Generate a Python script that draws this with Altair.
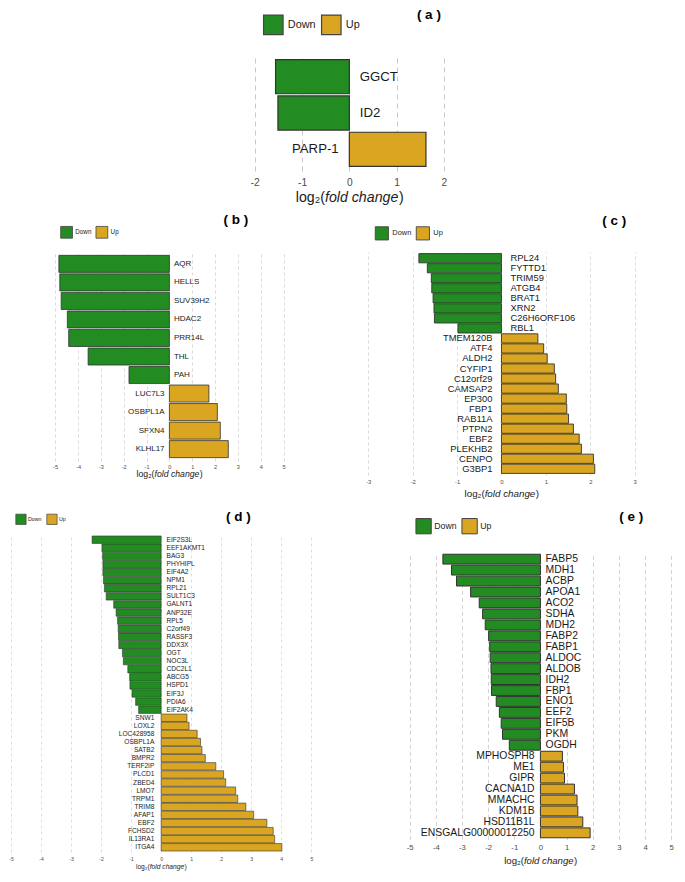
import altair as alt
import pandas as pd

FONT = "Liberation Sans"
GREEN = "#228B22"
GOLD = "#DAA520"
DIRS = ["Down", "Up"]

# ---------------- data ----------------
a_genes = ["GGCT", "ID2", "PARP-1"]
a_vals = [-1.56, -1.51, 1.62]

b_genes = ["AQR", "HELLS", "SUV39H2", "HDAC2", "PRR14L", "THL", "PAH",
           "LUC7L3", "OSBPL1A", "SFXN4", "KLHL17"]
b_vals = [-4.84, -4.80, -4.74, -4.47, -4.41, -3.56, -1.77,
          1.73, 2.10, 2.23, 2.58]

c_genes = ["RPL24", "FYTTD1", "TRIM59", "ATGB4", "BRAT1", "XRN2", "C26H6ORF106", "RBL1",
           "TMEM120B", "ATF4", "ALDH2", "CYFIP1", "C12orf29", "CAMSAP2", "EP300", "FBP1",
           "RAB11A", "PTPN2", "EBF2", "PLEKHB2", "CENPO", "G3BP1"]
c_vals = [-1.86, -1.67, -1.58, -1.57, -1.54, -1.52, -1.51, -0.98,
          0.82, 0.95, 1.03, 1.19, 1.22, 1.28, 1.46, 1.47,
          1.51, 1.62, 1.75, 1.80, 2.07, 2.10]

d_genes = ["EIF2S3L", "EEF1AKMT1", "BAG3", "PHYHIPL", "EIF4A2", "NPM1", "RPL21", "SULT1C3",
           "GALNT1", "ANP32E", "RPL5", "C2orf49", "RASSF3", "DDX3X", "OGT", "NOC3L",
           "CDC2L1", "ABCG5", "HSPD1", "EIF3J", "PDIA6", "EIF2AK4",
           "SNW1", "LOXL2", "LOC428958", "OSBPL1A", "SATB2", "BMPR2", "TERF2IP", "PLCD1",
           "ZBED4", "LMO7", "TRPM1", "TRIM8", "AFAP1", "EBF2", "FCHSD2", "IL13RA1", "ITGA4"]
d_vals = [-2.30, -1.97, -1.95, -1.94, -1.94, -1.92, -1.89, -1.83,
          -1.58, -1.50, -1.45, -1.43, -1.42, -1.41, -1.29, -1.26,
          -1.11, -1.05, -1.04, -0.97, -0.85, -0.75,
          0.86, 0.93, 1.20, 1.31, 1.36, 1.47, 1.82, 2.08,
          2.15, 2.48, 2.55, 2.82, 3.08, 3.52, 3.73, 3.78, 4.02]

e_genes = ["FABP5", "MDH1", "ACBP", "APOA1", "ACO2", "SDHA", "MDH2", "FABP2", "FABP1",
           "ALDOC", "ALDOB", "IDH2", "FBP1", "ENO1", "EEF2", "EIF5B", "PKM", "OGDH",
           "MPHOSPH8", "ME1", "GIPR", "CACNA1D", "MMACHC", "KDM1B", "HSD11B1L",
           "ENSGALG00000012250"]
e_vals = [-3.73, -3.40, -3.21, -2.67, -2.34, -2.21, -2.11, -1.98, -1.94,
          -1.92, -1.89, -1.88, -1.87, -1.69, -1.57, -1.50, -1.45, -1.19,
          0.84, 0.88, 0.92, 1.30, 1.40, 1.43, 1.62, 1.90]

ticks_a = [-2, -1, 0, 1, 2]
ticks_b = [-5, -4, -3, -2, -1, 0, 1, 2, 3, 4, 5]
ticks_c = [-3, -2, -1, 0, 1, 2, 3]
ticks_d = [-5, -4, -3, -2, -1, 0, 1, 2, 3, 4, 5]
ticks_e = [-5, -4, -3, -2, -1, 0, 1, 2, 3, 4, 5]

# ---------------- layout (page pixels) ----------------
SX, SY = 0.97, 0.98


def px(r):
    return 9 + SX * r


def py(r):
    return 8 + SY * (r - 2)


S = 60                      # spacing between panel plot areas
W1 = 297                    # width of left column panels
X1 = px(2.7)
X2 = X1 + W1 + S
Y1 = py(49)
Y2 = Y1 + 137 + S
Y3 = Y2 + 223 + S


def panel(genes, vals, ticks, cfg):
    xc, yr = cfg["xc"], cfg["yr"]
    df = pd.DataFrame({"gene": genes, "lfc": vals,
                       "dir": ["Down" if v < 0 else "Up" for v in vals]})
    yargs = dict(domain=genes, paddingInner=cfg["pi"], paddingOuter=cfg["po"])
    off = 0
    if "yrange" in cfg:
        r0, r1 = cfg["yrange"]
        yargs["range"] = [r0, r1]
        off = -(cfg["h"] - r1)
    xs = alt.Scale(domain=[ticks[0], ticks[-1]],
                   range=[px(cfg["xr"][0]) - xc, px(cfg["xr"][1]) - xc], nice=False, zero=False)
    ys = alt.Scale(**yargs)
    tfs = cfg["tfs"]
    xaxis = alt.Axis(values=ticks, tickCount=len(ticks) + 4, grid=True, gridDash=cfg["dash"],
                     gridColor="#c8c8c8", gridWidth=cfg["gw"], domain=False, ticks=False,
                     tickSize=0, labelFontSize=tfs, labelFont=FONT, labelColor="#4d4d4d",
                     labelPadding=cfg["tgap"] * SY - 0.43 * tfs, labelFlush=False,
                     labelOverlap=False, labelExpr="datum.value + ''", title=None, offset=off)
    leg = alt.Legend(orient="none", legendX=px(cfg["leg"][0]) - xc, legendY=py(cfg["leg"][1]) - yr,
                     direction="horizontal", title=None, symbolType="square",
                     symbolSize=cfg["ss"] ** 2, symbolStrokeColor="#444444",
                     symbolStrokeWidth=cfg["ssw"], labelFontSize=cfg["lfs"], labelFont=FONT,
                     labelColor="#222222", labelOffset=cfg["lo"], columnPadding=cfg["cp"],
                     padding=0)
    base = alt.Chart(df)
    bars = base.mark_bar(stroke="#333333", strokeWidth=cfg["bsw"]).encode(
        x=alt.X("lfc:Q", scale=xs, axis=xaxis),
        y=alt.Y("gene:N", scale=ys, axis=None),
        color=alt.Color("dir:N", scale=alt.Scale(domain=DIRS, range=[GREEN, GOLD]), legend=leg),
    )
    txt = dict(fontSize=cfg["fs"], font=FONT, color="#1a1a1a", baseline="middle")
    down = base.transform_filter("datum.lfc < 0").mark_text(
        align="left", dx=cfg["dxl"] * SX, **txt).encode(
        x=alt.X(datum=0), y=alt.Y("gene:N", axis=None), text="gene:N")
    up = base.transform_filter("datum.lfc >= 0").mark_text(
        align="right", dx=cfg["dxr"] * SX, **txt).encode(
        x=alt.X(datum=0), y=alt.Y("gene:N", axis=None), text="gene:N")
    title = alt.Chart(pd.DataFrame({"t": [cfg["title"]]})).mark_text(
        fontSize=13.5, fontWeight="bold", font=FONT, color="#000000").encode(
        x=alt.value(px(cfg["tpos"][0]) - xc), y=alt.value(py(cfg["tpos"][1]) - yr), text="t:N")
    f = cfg["afs"]
    aty = py(cfg["aty"]) - yr

    def part(s, align, dx, style):
        return alt.Chart(pd.DataFrame({"t": [s]})).mark_text(
            align=align, dx=dx, fontSize=f, font=FONT, fontStyle=style, color="#1a1a1a").encode(
            x=alt.X(datum=0), y=alt.value(aty), text="t:N")

    at1 = part("log\u2082(", "right", -1.718 * f, "normal")
    at2 = part("fold change", "center", 0.867 * f, "italic")
    at3 = part(")", "left", 3.5 * f, "normal")
    return alt.layer(bars, down, up, title, at1, at2, at3).properties(width=cfg["w"], height=cfg["h"])


cfg_a = dict(xc=X1, yr=Y1, w=W1, h=116, xr=[254, 449], pi=0.06, po=0.125, dash=[5, 4], gw=1.0,
             tfs=10.2, tgap=11.3, leg=[262.3, 7.3], ss=19.5, ssw=1.2, lfs=10.9, lo=4, cp=3,
             bsw=1.2, fs=13.2, dxl=10.7, dxr=-11, title="( a )", tpos=[433.5, 8.5],
             afs=14.2, aty=195)
cfg_b = dict(xc=X1, yr=Y2, w=W1, h=209, xr=[48.3, 283.7], pi=0.08, po=0.18, dash=[3, 3], gw=0.7,
             tfs=5.6, tgap=5.6, leg=[53.3, 223.3], ss=11.8, ssw=0.8, lfs=6.3, lo=2.2, cp=2.3,
             bsw=0.8, fs=8.0, dxl=4.7, dxr=-5, title="( b )", tpos=[234.5, 217.5],
             afs=8.7, aty=476.7)
cfg_c = dict(xc=X2, yr=Y2, w=267, h=223, xr=[371, 645.7], pi=0.08, po=0.16, dash=[3, 3], gw=0.7,
             tfs=5.9, tgap=6.0, leg=[377.3, 223.3], ss=13.2, ssw=0.9, lfs=7.4, lo=3, cp=3,
             bsw=0.9, fs=9.4, dxl=9.3, dxr=-9.3, title="( c )", tpos=[624.7, 218.3],
             afs=9.8, aty=497)
cfg_d = dict(xc=X1, yr=Y3, w=W1, h=317, xr=[2.7, 312.3], pi=0.08, po=0.12, dash=[3, 3], gw=0.6,
             tfs=5.1, tgap=7.2, leg=[7.3, 516.7], ss=10.3, ssw=0.7, lfs=5.3, lo=1.5, cp=2,
             bsw=0.6, fs=6.6, dxl=5.5, dxr=-7, title="( d )", tpos=[237, 520],
             afs=6.7, aty=877.7)
cfg_e = dict(xc=X2, yr=Y3, w=303, h=322, yrange=[17.6, 304.4], xr=[413.7, 683.3],
             pi=0.1, po=0.15, dash=[4, 3], gw=0.8,
             tfs=7.7, tgap=7.4, leg=[419.3, 520.7], ss=15.3, ssw=1.0, lfs=8.7, lo=2.2, cp=2,
             bsw=1.0, fs=10.4, dxl=5.3, dxr=-6, title="( e )", tpos=[642.2, 520],
             afs=9.6, aty=871.7)

pa = panel(a_genes, a_vals, ticks_a, cfg_a)
pb = panel(b_genes, b_vals, ticks_b, cfg_b)
pc = panel(c_genes, c_vals, ticks_c, cfg_c)
pdn = panel(d_genes, d_vals, ticks_d, cfg_d)
pe = panel(e_genes, e_vals, ticks_e, cfg_e)

blank = alt.Chart(pd.DataFrame({"v": [0]})).mark_point(opacity=0).encode(
    x=alt.X("v:Q", axis=None), y=alt.Y("v:Q", axis=None)).properties(width=10, height=137)

chart = alt.concat(pa, blank, pb, pc, pdn, pe, columns=2, spacing=S,
                   bounds="flush", align="none").resolve_scale(
    color="independent").properties(padding=0).configure_view(stroke=None)

chart.save("out.html", embed_options={"renderer": "svg", "actions": False})
